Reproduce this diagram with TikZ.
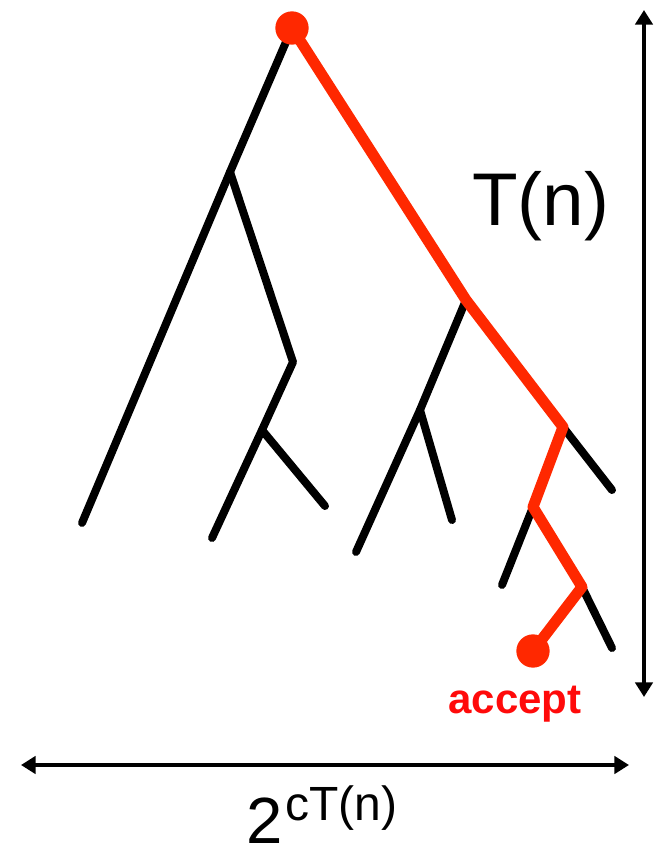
\documentclass[tikz,border=0pt]{standalone}
\usepackage{fontspec}
\setmainfont{Liberation Sans}
\usetikzlibrary{arrows.meta}
\definecolor{pathred}{RGB}{255,40,0}
\definecolor{txtred}{RGB}{255,10,10}
\tikzset{
  branch/.style={line width=6pt, line cap=round, line join=round, black},
  redpath/.style={line width=8.25pt, line cap=round, line join=round, pathred},
  dot/.style={circle, fill=pathred, inner sep=0pt, minimum size=25pt},
  dimarrow/.style={line width=3pt, {Triangle[length=11pt,width=13pt]}-{Triangle[length=11pt,width=13pt]}},
}
\begin{document}
\begin{tikzpicture}[x=0.75pt, y=-0.75pt]
\useasboundingbox (0,0) rectangle (656,851);
% tree coordinates
\coordinate (r) at (292,28);
\coordinate (a) at (230,172);
\coordinate (a1) at (82,523);
\coordinate (b) at (293,362);
\coordinate (c) at (262,430);
\coordinate (c1) at (212,538);
\coordinate (c2) at (325,506);
\coordinate (d) at (466,300);
\coordinate (e) at (420,410);
\coordinate (e1) at (356,552);
\coordinate (e2) at (452,520);
\coordinate (f) at (563,427);
\coordinate (f1) at (612,490);
\coordinate (g) at (533,507);
\coordinate (g1) at (502,585);
\coordinate (h) at (582,587);
\coordinate (h1) at (612,648);
\coordinate (acc) at (533,651);
% black branches
\draw[branch] (r) -- (a) -- (a1);
\draw[branch] (a) -- (b) -- (c) -- (c1);
\draw[branch] (c) -- (c2);
\draw[branch] (d) -- (e) -- (e1);
\draw[branch] (e) -- (e2);
\draw[branch] (f) -- (f1);
\draw[branch] (g) -- (g1);
\draw[branch] (h) -- (h1);
% red accepting path
\draw[redpath] (r) -- (d) -- (f) -- (g) -- (h) -- (acc);
\node[dot] (rootdot) at (r) {};
\node[dot] (accdot) at (acc) {};
\node[anchor=base, inner sep=0pt, text=txtred, font=\fontsize{31.5}{31.5}\selectfont\bfseries] (acclabel) at (515,713) {accept};
% dimension arrows
\coordinate (vt) at (644,10);
\coordinate (vb) at (644,697);
\draw[dimarrow] (vt) -- (vb);
\coordinate (hl) at (21,765);
\coordinate (hr) at (629,765);
\draw[dimarrow] (hl) -- (hr);
\node[anchor=base west, inner sep=0pt, font=\fontsize{56}{56}\selectfont] (tlabel) at (472,225) {T(n)};
\node[anchor=base west, inner sep=0pt, font=\fontsize{49}{49}\selectfont] (wlabel) at (246,843) {2\kern2pt\raisebox{17.25pt}{\fontsize{36}{36}\selectfont cT(n)}};
\end{tikzpicture}
\end{document}
